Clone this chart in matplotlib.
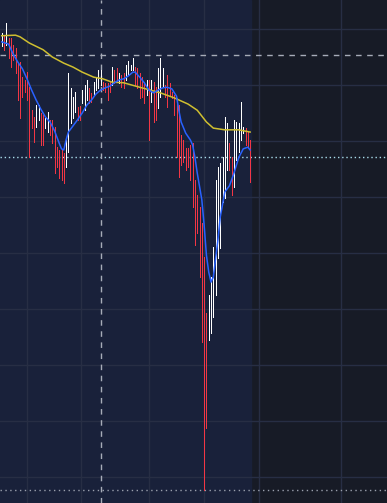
import numpy as np
import matplotlib
matplotlib.use("Agg")
import matplotlib.pyplot as plt

# candle ranges (top / bottom of each thin candle)
tops = [79.3, 78.8, 81.1, 78.4, 78.4, 77.1, 76.6, 73.9, 74.1, 71.4,
        70.9, 72.3, 69.6, 65.5, 64.3, 66.4, 66.4, 65.0, 64.6, 64.1,
        65.2, 63.8, 63.8, 62.5, 58.9, 58.4, 58.4, 57.9, 60.2, 72.1,
        69.5, 67.9, 68.8, 66.1, 66.3, 69.1, 70.0, 70.9, 69.5, 68.6,
        70.5, 71.4, 72.7, 72.7, 70.5, 70.4, 70.4, 70.5, 73.2, 72.7,
        73.0, 72.1, 71.8, 72.1, 73.6, 74.3, 73.6, 74.8, 73.2, 73.0,
        72.1, 71.4, 70.5, 70.9, 70.9, 70.9, 70.5, 69.6, 73.0, 74.8,
        73.0, 70.0, 71.8, 70.4, 68.8, 68.2, 67.7, 66.4, 61.1, 60.2,
        58.8, 58.8, 59.3, 59.6, 53.0, 50.4, 48.2, 45.4, 39.3, 29.3,
        32.5, 35.7, 41.1, 53.0, 55.4, 56.1, 57.1, 64.3, 63.2, 59.6,
        57.1, 63.8, 63.4, 63.2, 67.0, 62.5, 62.3, 61.6, 60.2]
bottoms = [77.0, 76.3, 77.1, 74.8, 73.2, 74.5, 72.1, 67.3, 64.1, 67.9,
           68.8, 67.3, 57.1, 62.3, 59.8, 62.5, 63.8, 59.3, 59.3, 62.3,
           61.6, 61.1, 59.6, 54.3, 55.4, 53.4, 53.0, 52.5, 55.4, 58.0,
           63.2, 64.1, 65.2, 63.8, 63.8, 66.8, 65.5, 67.3, 66.8, 67.0,
           68.2, 69.1, 69.5, 70.0, 69.1, 68.8, 67.3, 68.8, 70.0, 70.4,
           70.5, 70.4, 69.6, 69.5, 70.9, 71.8, 72.7, 72.7, 70.0, 69.5,
           67.7, 67.9, 66.8, 68.2, 60.2, 67.0, 63.4, 63.8, 65.9, 67.9,
           69.6, 67.9, 66.1, 68.2, 67.7, 64.6, 57.1, 53.6, 55.7, 56.2,
           54.8, 55.4, 53.0, 48.2, 41.4, 43.6, 35.7, 24.1, -2.3, 8.8,
           24.5, 25.7, 28.6, 32.5, 39.1, 40.9, 49.1, 49.8, 54.8, 54.8,
           50.4, 51.8, 56.6, 58.0, 60.2, 61.4, 59.3, 58.9, 52.7]
# u = up candle (white), d = down candle (red)
direction = ("udurrrrrrrrrrrruurruurrrrrrruuuuurruuurruuuurrrrurrurr"
             "uuuurrrrrururruuurrrrrrrrrrrrrrrrrrruuuuuuuuurruuuuurrr")
direction = direction.replace("r", "d")

# short average (blue) and long average (yellow), sampled at candle index
fast_idx = [0, 3, 5, 7, 9, 11, 13, 15, 17, 19, 21, 23, 25, 26, 27, 28, 29, 31,
            33, 35, 37, 39, 41, 43, 45, 47, 49, 51, 53, 55, 57, 58, 60, 62, 64,
            66, 68, 70, 72, 74, 76, 77, 78, 80, 82, 83, 84, 85, 87, 88, 89, 90,
            91, 92, 93, 94, 95, 97, 99, 101, 103, 105, 107, 108]
fast_val = [77.7, 77.3, 75.5, 74.1, 72.9, 71.1, 69.1, 67.3, 65.7, 64.3, 63.4,
            61.8, 59.6, 58.6, 58.4, 60.2, 61.6, 62.7, 63.8, 65.0, 66.4, 67.3,
            68.4, 69.1, 69.5, 69.8, 70.4, 70.9, 71.1, 71.6, 72.3, 72.3, 71.4,
            70.4, 69.1, 68.6, 69.1, 69.5, 69.6, 69.3, 68.0, 65.5, 63.4, 61.4,
            60.2, 59.3, 57.1, 54.3, 49.5, 45.0, 39.6, 36.6, 34.8, 35.7, 39.1,
            42.3, 46.4, 50.9, 52.0, 54.3, 57.0, 58.6, 58.9, 58.4]
slow_idx = [0, 6, 8, 12, 18, 22, 27, 31, 35, 40, 44, 48, 53, 60, 69, 75, 81,
            85, 89, 92, 97, 103, 108]
slow_val = [78.8, 78.9, 78.6, 77.5, 76.3, 75.0, 73.9, 73.2, 72.3, 71.4, 71.1,
            70.5, 70.4, 69.6, 68.6, 67.7, 66.6, 65.5, 63.4, 62.3, 62.0, 62.0,
            61.6]

# reference levels and date gridlines
level_dashed = 75.4
level_last = 57.1
date_grid = [11, 34.5, 64, 88, 112, 147.5]
cursor_x = 43.2

n = len(tops)
x = np.arange(n)

fig = plt.figure(figsize=(3.87, 5.03), dpi=100)
fig.patch.set_facecolor('#171b26')
ax = fig.add_axes([0, 0, 1, 1])
ax.set_facecolor('#171b26')
ax.set_xlim(-0.74, 167.5)
ax.set_ylim(-4.64, 85.18)
ax.axis('off')

# session highlight behind the data
ax.axvspan(-0.74, n - 0.5, color='#19213a', zorder=0)

for p in range(0, 90, 10):
    ax.axhline(p, color='#272e44', lw=1, zorder=1)
for g in date_grid:
    ax.axvline(g, color='#272e44', lw=1, zorder=1)

# crisp 1px candles (0.72pt = 1px at 100 dpi)
colors = ['#ffffff' if d == 'u' else '#f23645' for d in direction]
ax.vlines(x, bottoms, tops, colors=colors, lw=0.72, antialiased=False, zorder=3)

ax.plot(slow_idx, slow_val, color='#cfbf30', lw=1.1, zorder=4)
ax.plot(fast_idx, fast_val, color='#2962ff', lw=1.1, zorder=4)

ax.axhline(level_dashed, color='#a7acb8', lw=1, ls=(0, (4, 4)), zorder=2)
ax.axhline(level_last, color='#a9dcea', lw=1, ls=(0, (1, 2)), zorder=2)
ax.axhline(min(bottoms), color='#9aa0ad', lw=1, ls=(0, (1, 2.5)), zorder=2)
ax.axvline(cursor_x, color='#a7acb8', lw=1, ls=(0, (4, 4)), zorder=2)

fig.savefig('out.png', dpi=100, facecolor=fig.get_facecolor())
